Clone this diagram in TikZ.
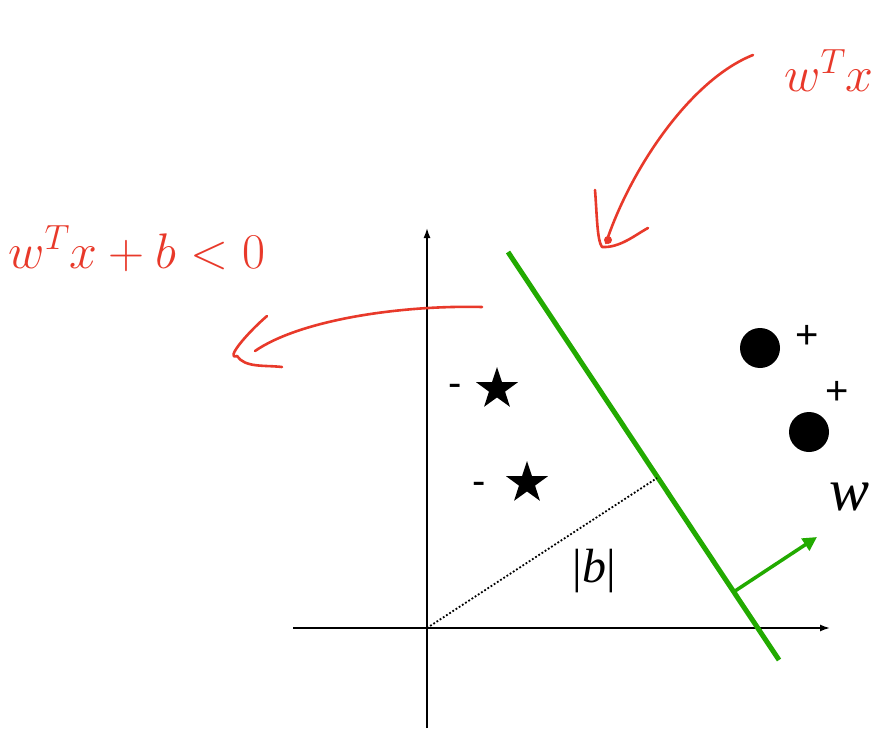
\RequirePackage{fix-cm}
\documentclass[tikz,border=0pt]{standalone}
\usepackage{fontspec}
\newfontfamily\helv{Liberation Sans}
\newfontfamily\tms{Liberation Serif}
\usetikzlibrary{arrows.meta,shapes.geometric}
\definecolor{hand}{HTML}{E8392A}
\definecolor{sep}{HTML}{22AA00}
\begin{document}
\begin{tikzpicture}[x=1pt,y=-1pt,
  axis/.style={line width=1.6pt,-{Latex[length=10pt,width=7pt]}},
  handline/.style={hand,line width=2.6pt,line cap=round,line join=round},
  handtext/.style={hand,font=\fontsize{50}{54}\selectfont,inner sep=0pt},
  negstar/.style={star,star points=5,star point ratio=2.6,fill=black,minimum size=44pt,inner sep=0pt},
  posdot/.style={circle,fill=black,minimum size=40pt,inner sep=0pt},
  lbl/.style={font=\helv\fontsize{40}{42}\selectfont,inner sep=0pt}]
\useasboundingbox (0,0) rectangle (877,730);
% axes
\coordinate (O) at (427,628);
\coordinate (yb) at (427,728);
\coordinate (yt) at (427,228);
\coordinate (xl) at (293,628);
\coordinate (xr) at (830,628);
\draw[axis] (yb) -- (yt);
\draw[axis] (xl) -- (xr);
% separating line
\coordinate (s1) at (508,252);
\coordinate (s2) at (779,660);
\draw[sep,line width=5pt] (s1) -- (s2);
% |b|
\coordinate (foot) at (657,478);
\draw[line width=1.8pt,dotted] (O) -- (foot);
\node[inner sep=0pt,font=\tms\fontsize{48}{50}\selectfont] (b) at (594,571) {|\textit{b}|};
% w vector
\coordinate (wb) at (735,591);
\coordinate (wt) at (817,537);
\draw[sep,line width=3.5pt,-{Triangle[length=14pt,width=14pt]}] (wb) -- (wt);
\node[inner sep=0pt,font=\tms\itshape\fontsize{60}{62}\selectfont] (w) at (849,497) {w};
% negatives
\node[negstar] (n1) at (497,389) {};
\node[negstar] (n2) at (527,483) {};
\node[lbl] (m1) at (455,390) {-};
\node[lbl] (m2) at (479,488) {-};
% positives
\node[posdot] (p1) at (760,348) {};
\node[posdot] (p2) at (809,432) {};
\node[lbl] (pl1) at (807,337) {+};
\node[lbl] (pl2) at (837,393) {+};
% left handwritten label
\node[handtext,anchor=base west] (neg) at (8,268) {$w^{T}x+b<0$};
\coordinate (la) at (482,307);
\coordinate (lb) at (255,351);
\draw[handline] (la) .. controls (400,305) and (300,320) .. (lb);
\coordinate (lh1) at (267,316);
\coordinate (lh2) at (237,356);
\coordinate (lh3) at (282,367);
\draw[handline] (lh1) .. controls (245,335) and (225,360) .. (lh2) .. controls (245,368) and (265,365) .. (lh3);
% top right handwritten label
\node[handtext,anchor=base east] (pos) at (874,92) {$w^{T}x$};
\coordinate (ra) at (753,55);
\coordinate (rb) at (606,243);
\draw[handline] (ra) .. controls (690,80) and (630,170) .. (rb);
\coordinate (rh1) at (595,190);
\coordinate (rh2) at (602,247);
\coordinate (rh3) at (648,228);
\draw[handline] (rh1) .. controls (597,215) and (597,240) .. (rh2) .. controls (620,248) and (635,235) .. (rh3);
\fill[hand] (608,240) circle (4pt);
\end{tikzpicture}
\end{document}
